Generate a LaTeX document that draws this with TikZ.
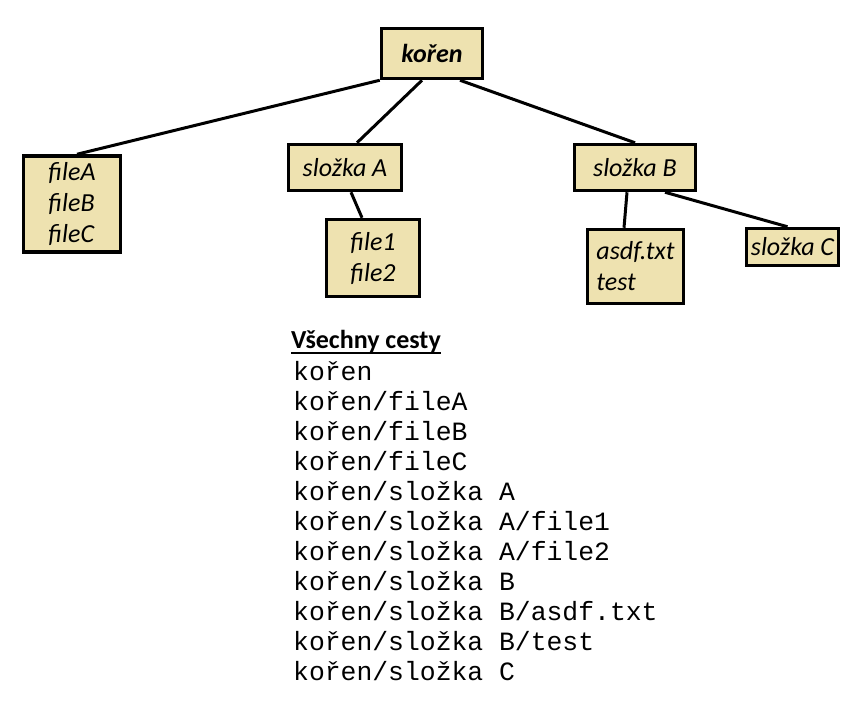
\documentclass[tikz,border=0pt]{standalone}
\usepackage{fontspec}
\setmainfont{Carlito}
\newfontfamily\monofont{Liberation Mono}
\usetikzlibrary{positioning}
\definecolor{boxfill}{RGB}{238,226,176}

\begin{document}
\begin{tikzpicture}[
    x=1pt, y=-1pt,
    box/.style={rectangle, draw, line width=3.5pt, fill=boxfill, align=left, inner sep=0pt, font=\fontsize{26}{31}\selectfont\itshape},
    link/.style={line width=3pt},
    cesta/.style={anchor=base west, inner sep=0pt, font=\fontsize{26.4}{30}\selectfont\monofont}
]
\useasboundingbox (0,0) rectangle (867,712);

% Tree of folders and files
\node[box, minimum width=101pt, minimum height=50pt, font=\fontsize{26}{31}\selectfont\bfseries\itshape] (koren) at (432,53.5) {kořen};
\node[box, minimum width=97pt, minimum height=96pt] (files) at (72,204) {fileA\\fileB\\fileC};
\node[box, minimum width=113pt, minimum height=46pt] (slozkaA) at (345,167.5) {složka A};
\node[box, minimum width=93pt, minimum height=77pt] (filesA) at (373,258) {file1\\file2};
\node[box, minimum width=121pt, minimum height=46pt] (slozkaB) at (635,167.5) {složka B};
\node[box, minimum width=96pt, minimum height=74pt] (filesB) at (635.5,266.5) {asdf.txt\\test};
\node[box, minimum width=92pt, minimum height=37pt] (slozkaC) at (792.5,247) {složka C};

% Connectors
\draw[link] (koren.south west) -- ([xshift=5pt]files.north);
\draw[link] ([xshift=-10pt]koren.south) -- ([xshift=12pt]slozkaA.north);
\draw[link] ([xshift=28pt]koren.south) -- (slozkaB.north);
\draw[link] ([xshift=6pt]slozkaA.south) -- ([xshift=-11pt]filesA.north);
\draw[link] ([xshift=-8pt]slozkaB.south) -- ([xshift=-11.5pt]filesB.north);
\draw[link] ([xshift=30pt]slozkaB.south) -- ([xshift=-5pt]slozkaC.north);

% List of all paths
\node[anchor=base west, inner sep=0pt, font=\fontsize{26}{31}\selectfont\bfseries] (nadpis) at (291,348) {Všechny cesty};
\draw[line width=1.8pt] ([yshift=-5pt]nadpis.base west) -- ([yshift=-5pt]nadpis.base east);
\foreach \p [count=\i] in {kořen, kořen/fileA, kořen/fileB, kořen/fileC, kořen/složka A, kořen/složka A/file1, kořen/složka A/file2, kořen/složka B, kořen/složka B/asdf.txt, kořen/složka B/test, kořen/složka C}
    \node[cesta] (cesta\i) at (293,350+30*\i) {\p};

\end{tikzpicture}
\end{document}
